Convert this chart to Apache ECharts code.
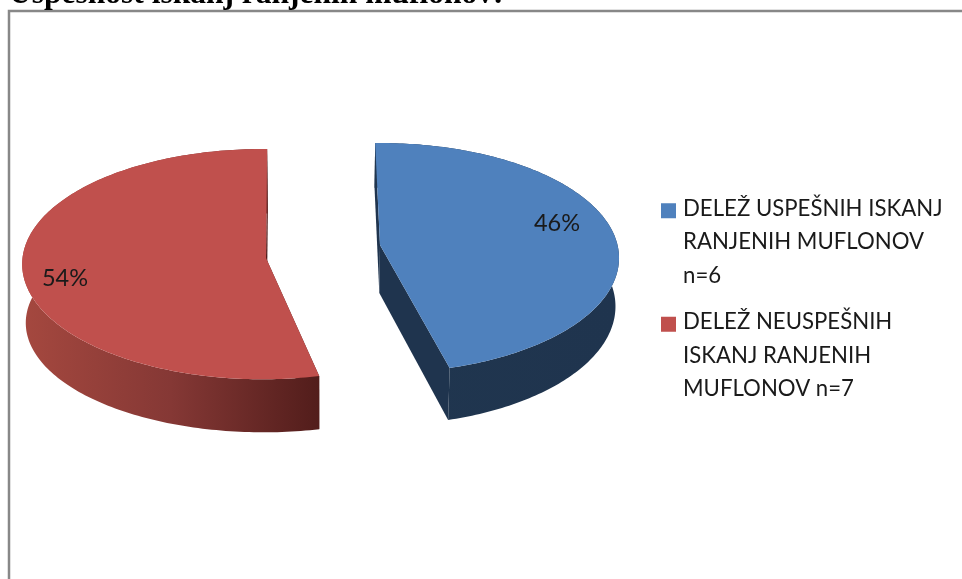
<!DOCTYPE html>
<html><head><meta charset="utf-8">
<style>html,body{margin:0;padding:0;background:#fff}#c{width:962px;height:579px}</style>
<script src="https://cdn.jsdelivr.net/npm/echarts@6/dist/echarts.min.js"></script></head>
<body><div id="c"></div>
<script>
const titleText = 'Uspešnost iskanj ranjenih muflonov:';
const categories = ['DELEŽ USPEŠNIH ISKANJ\nRANJENIH MUFLONOV\nn=6', 'DELEŽ NEUSPEŠNIH\nISKANJ RANJENIH\nMUFLONOV n=7'];
const values = [6, 7];
const percentLabels = ['46%', '54%'];
const topColors = ['#4f81bd', '#c0504d'];

const total = values.reduce((a, b) => a + b, 0);
// Fitted camera pose of each exploded slice: apex, rim centre, radii, perspective strength, first angle, wall depth, label offset.
const poses = [
  {ax: 380, ay: 245, cx: 380, cy: 245, R: 237.5, S: 113.5, k: 0.113, start: -1.3, drop: 39.9, stretch: 1.033, label: [177, -22],
   wall: [{offset: 0, color: '#20364f'}, {offset: 1, color: '#1f344e'}]},
  {ax: 266, ay: 258, cx: 263, cy: 258, R: 240.5, S: 114.8, k: 0.0534, start: 167.2, drop: 72, stretch: 0.95, label: [-201, 20],
   wall: [{offset: 0, color: '#a5483f'}, {offset: 0.5, color: '#853835'}, {offset: 1, color: '#521d1b'}]}
];
const VAN_X = 323, SCALE = 0.988;

function rimPoint(p, deg) {
  const a = deg * Math.PI / 180, u = Math.sin(a), v = -Math.cos(a), w = 1 - p.k * v;
  return [p.cx + p.R * u / w, p.cy + p.S * v / w];
}

function makeRender(i) {
  return function (params, api) {
    const p = poses[i], sweep = api.value(0) / total * 360;
    const low = pt => [VAN_X + (pt[0] - VAN_X) * SCALE, pt[1] * p.stretch + p.drop];
    const arc = [];
    for (let d = 0; d <= 180; d++) arc.push(rimPoint(p, p.start + sweep * d / 180));
    const apex = [p.ax, p.ay], first = arc[0], last = arc[arc.length - 1];
    const wallFill = {type: 'linear', x: 0, y: 0, x2: 1, y2: 0, colorStops: p.wall};
    const flatEnd = p.wall[p.wall.length - 1].color;
    const poly = (pts, fill) => ({type: 'polygon', shape: {points: pts}, style: {fill: fill}});
    return {type: 'group', children: [
      poly([first, apex, low(apex), low(first)], flatEnd),
      poly([apex, last, low(last), low(apex)], flatEnd),
      poly(arc.concat(arc.map(low).reverse()), wallFill),
      poly([apex].concat(arc), topColors[i]),
      {type: 'text', style: {text: percentLabels[i], x: p.ax + p.label[0], y: p.ay + p.label[1],
        align: 'center', verticalAlign: 'middle', fill: '#1a1a1a', font: '23.5px Lato'}}
    ]};
  };
}

const chart = echarts.init(document.getElementById('c'), null, {renderer: 'canvas'});
const ICON = 'path://M0 0L0.01 0L0.01 0.01Z M0 11H15V26H0Z M0 100L0.01 100L0.01 99.99Z';
chart.setOption({
  animation: false,
  backgroundColor: '#fff',
  title: {text: titleText, left: 9, top: -21, padding: 0,
    textStyle: {fontFamily: 'Liberation Serif', fontWeight: 'bold', fontSize: 31.5, color: '#000'}},
  legend: {
    orient: 'vertical', left: 661, top: 192, padding: 0, itemGap: 13, itemWidth: 15, itemHeight: 100,
    icon: ICON, selectedMode: false, data: categories,
    textStyle: {fontFamily: 'Lato', fontSize: 22.2, lineHeight: 33.5, color: '#1a1a1a', padding: [0, 0, 0, 2]}
  },
  graphic: [{type: 'rect', z: -1, shape: {x: 9, y: 11, width: 1200, height: 1200},
    style: {fill: '#fff', stroke: '#888888', lineWidth: 2.5}}],
  series: categories.map((name, i) => ({
    type: 'custom', name: name, coordinateSystem: 'none', silent: true,
    itemStyle: {color: topColors[i]}, data: [[values[i]]], renderItem: makeRender(i)
  }))
});
</script></body></html>
